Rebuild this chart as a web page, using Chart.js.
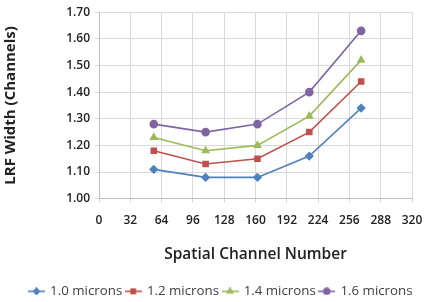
<!DOCTYPE html>
<html>
<head>
<meta charset="utf-8">
<script src="https://cdn.jsdelivr.net/npm/chart.js@4"></script>
<style>
  html, body { margin: 0; padding: 0; background: #fff; }
  #wrap { width: 442px; height: 302px; }
</style>
</head>
<body>
<div id="wrap"><canvas id="lrf" width="442" height="302"></canvas></div>
<script>
const channels = [56, 109, 162, 215, 268];
const seriesNames = ['1.0 microns', '1.2 microns', '1.4 microns', '1.6 microns'];
const width10 = [1.11, 1.08, 1.08, 1.16, 1.34];
const width12 = [1.18, 1.13, 1.15, 1.25, 1.44];
const width14 = [1.23, 1.18, 1.20, 1.31, 1.52];
const width16 = [1.28, 1.25, 1.28, 1.40, 1.63];

const colors = ['#4F81BD', '#C0504D', '#9BBB59', '#8064A2'];
const markers = ['rectRot', 'rect', 'triangle', 'circle'];
const values = [width10, width12, width14, width16];

const font = "'Open Sans', 'DejaVu Sans', sans-serif";

// small legend swatch: line with the series marker on it
function swatch(color, style) {
  const c = document.createElement('canvas');
  c.width = 17; c.height = 8;
  const g = c.getContext('2d');
  g.strokeStyle = color; g.fillStyle = color; g.lineWidth = 1.6;
  g.beginPath(); g.moveTo(0, 4); g.lineTo(17, 4); g.stroke();
  Chart.helpers.drawPoint(g, { pointStyle: style, radius: 3, rotation: 0, borderWidth: 1 }, 8.5, 4);
  return c;
}

const datasets = values.map((vals, i) => ({
  label: seriesNames[i],
  data: vals.map((v, j) => ({ x: channels[j], y: v })),
  borderColor: colors[i],
  backgroundColor: colors[i],
  borderWidth: 1.6,
  pointStyle: markers[i],
  pointRadius: 3.5,
  tension: 0
}));

// legend is centred on the whole canvas, not on the plot
const centerLegend = {
  id: 'centerLegend',
  afterLayout(chart) {
    const lg = chart.legend;
    const shift = (chart.width - (lg.left + lg.right)) / 2;
    lg.left += shift;
    lg.right += shift;
  }
};

new Chart(document.getElementById('lrf'), {
  type: 'line',
  data: { datasets },
  plugins: [centerLegend],
  options: {
    responsive: false,
    animation: false,
    layout: { padding: { top: 4, right: 30, left: 2, bottom: -6 } },
    plugins: {
      tooltip: { enabled: false },
      legend: {
        position: 'bottom',
        labels: {
          usePointStyle: true,
          pointStyleWidth: 14,
          padding: 4,
          color: '#404040',
          font: { family: font, size: 13.3 },
          generateLabels: chart => chart.data.datasets.map((d, i) => ({
            text: d.label,
            pointStyle: swatch(colors[i], markers[i]),
            fillStyle: colors[i],
            strokeStyle: colors[i],
            fontColor: '#404040',
            lineWidth: 0,
            datasetIndex: i
          }))
        }
      }
    },
    scales: {
      x: {
        type: 'linear',
        min: 0,
        max: 320,
        ticks: { stepSize: 32, color: '#222', padding: 11, font: { family: font, size: 12, weight: '600' } },
        grid: { color: '#d9d9d9', tickLength: 4 },
        border: { color: '#bfbfbf' },
        title: { display: true, text: 'Spatial Channel Number', color: '#222', padding: { top: 12, bottom: 17 },
          font: { family: font, size: 15.5, weight: '600' } },
        afterFit: s => { s.height = 82; }
      },
      y: {
        min: 1.0,
        max: 1.7,
        ticks: { stepSize: 0.1, color: '#222', padding: 5,
          callback: v => v.toFixed(2),
          font: { family: font, size: 12, weight: '600' } },
        grid: { color: '#d9d9d9', tickLength: 4 },
        border: { color: '#bfbfbf' },
        title: { display: true, text: 'LRF Width (Channels)', color: '#222', padding: { top: 0, bottom: 4 },
          font: { family: font, size: 15, weight: 'bold' } },
        afterFit: s => { s.width = 97; }
      }
    }
  }
});
</script>
</body>
</html>
